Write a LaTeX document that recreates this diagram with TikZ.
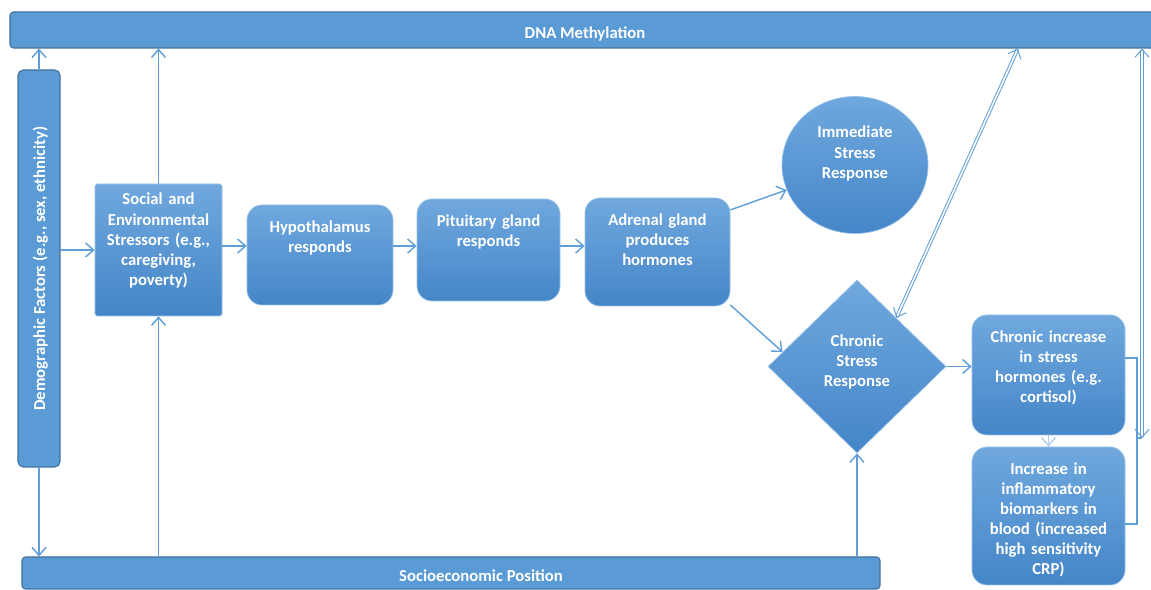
\documentclass[tikz,border=0pt]{standalone}
\usepackage{fontspec}
\setmainfont{Carlito}
\usetikzlibrary{%
  arrows.meta,%
  shapes.geometric,% wg. ellipse, diamond
  positioning,%
  calc%
}
\definecolor{barblue}{RGB}{91,155,213}
\definecolor{barline}{RGB}{65,113,156}
\definecolor{boxtop}{RGB}{112,168,222}
\definecolor{boxbot}{RGB}{68,134,200}
\definecolor{lineblue}{RGB}{95,158,216}

\begin{document}
\begin{tikzpicture}[
  font=\fontsize{9.5}{11.4}\selectfont\bfseries,
  >={Straight Barb[length=1.6mm,width=2.8mm]},
  line width=0.8pt,
  bar/.style={rectangle, draw=barline, fill=barblue, rounded corners=2pt, text=white, line width=0.6pt, inner sep=0pt, text height=10pt, text depth=0pt},
  box/.style={rectangle, rounded corners=0.3cm, top color=boxtop, bottom color=boxbot, draw=boxtop!70!white, line width=0.4pt, text=white, align=center, text height=0.25cm, inner ysep=0.3cm, inner xsep=0pt},
  blob/.style={top color=boxtop, bottom color=boxbot, draw=boxtop!70!white, line width=0.4pt, text=white, align=center, text height=0.25cm, inner sep=0pt},
  link/.style={->, draw=lineblue},
  twoway/.style={<->, draw=lineblue, double=white, double distance=0.9pt, line width=0.55pt}
]

\useasboundingbox[fill=white] (0,0) rectangle (23.02,11.8);

% bars
\node[bar, minimum width=23cm, minimum height=0.72cm] (dna) at (11.7,11.2) {DNA Methylation\hspace{0.5cm}};
\node[bar, rotate=90, rounded corners=3pt, text height=7pt, minimum width=7.94cm, minimum height=0.84cm] (demo) at (0.78,6.43) {Demographic Factors (e.g., sex, ethnicity)};
\node[bar, minimum width=17.16cm, minimum height=0.64cm] (sep) at (9.02,0.34) {\hspace{1.2cm}Socioeconomic Position};

% boxes
\node[box, rounded corners=1pt, text width=2.4cm, minimum width=2.54cm, inner ysep=0.17cm, text depth=2.05cm] (social) at (3.17,6.8) {Social and\\Environmental\\Stressors (e.g.,\\caregiving,\\poverty)};
\node[box, text width=2.7cm, minimum width=2.92cm, text depth=1.15cm] (hypo) at (6.4,6.7) {Hypothalamus\\responds};
\node[box, text width=2.7cm, minimum width=2.86cm, text depth=1.19cm] (pit) at (9.77,6.8) {Pituitary gland\\responds};
\node[box, text width=2.7cm, minimum width=2.9cm, text depth=1.31cm] (adr) at (13.15,6.76) {Adrenal gland\\produces\\hormones};
\node[blob, ellipse, text width=1.7cm, minimum width=2.92cm, minimum height=2.74cm, text depth=1.33cm] (imm) at (17.1,8.5) {Immediate\\Stress\\Response};
\node[blob, diamond, text width=1.7cm, minimum width=3.56cm, minimum height=3.46cm, text depth=1.05cm] (chr) at (17.14,4.47) {Chronic\\Stress\\Response};
\node[box, text width=2.9cm, minimum width=3.06cm, text depth=1.55cm] (chinc) at (20.97,4.3) {Chronic increase\\in stress\\hormones (e.g.\\cortisol)};
\node[box, text width=2.9cm, minimum width=3.06cm, text depth=1.91cm] (incr) at (20.97,1.48) {Increase in\\inflammatory\\biomarkers in\\blood (increased\\high sensitivity\\CRP)};

\coordinate (row) at (0,6.88);
\coordinate (up1) at (20.36,0);
\coordinate (up2) at (22.84,0);
\coordinate (bt) at (22.74,4.64);
\coordinate (bm) at (22.74,3.04);
\coordinate (bb) at (22.74,1.32);

% connectors
\draw[link] (demo.east) -- (demo.east |- dna.south);
\draw[link] (demo.west) -- (demo.west |- sep.north);
\draw[link] (demo.south |- social.west) -- (social.west);
\draw[link] (social.north) -- (social.north |- dna.south);
\draw[link] (sep.north -| social.south) -- (social.south);
\draw[link] (social.east |- row) -- (hypo.west |- row);
\draw[link] (hypo.east |- row) -- (pit.west |- row);
\draw[link] (pit.east |- row) -- (adr.west |- row);
\draw[link] (adr.30) -- (imm.200);
\draw[link] (adr.-36) -- (chr.169);
\draw[link] (sep.north -| chr.south) -- (chr.south);
\draw[link] (chr.east) -- (chr.east -| chinc.west);
\draw[link, draw=lineblue!50] (chinc.south) -- (incr.north);
\draw[twoway] (chr.51) -- (dna.south -| up1);

% bracket
\draw[draw=lineblue, line width=0.6pt] (bt -| chinc.east) -- (bt) -- (bb) -- (bb -| incr.east);
\draw[draw=lineblue, line width=0.6pt] (bm) -- (bm -| up2);
\draw[twoway] (bm -| up2) -- (dna.south -| up2);

\end{tikzpicture}
\end{document}
